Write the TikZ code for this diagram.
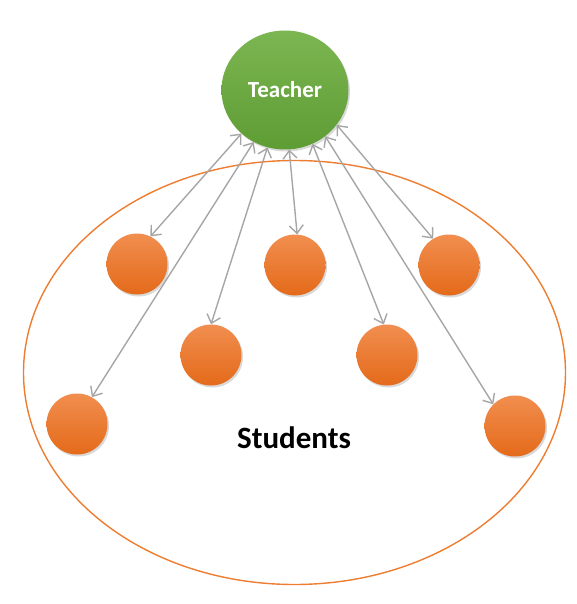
\documentclass[tikz,border=0pt]{standalone}
\usepackage{fontspec}
\setmainfont{Carlito}
\usetikzlibrary{arrows.meta,shapes.geometric,shadows}
\definecolor{ringorange}{RGB}{237,125,49}
\definecolor{studtop}{RGB}{241,142,79}
\definecolor{studbot}{RGB}{228,106,26}
\definecolor{teachtop}{RGB}{124,182,82}
\definecolor{teachbot}{RGB}{94,156,52}
\definecolor{linkgray}{RGB}{166,166,166}

\begin{document}
\begin{tikzpicture}[x=1pt, y=-1pt,
  student/.style={circle, minimum size=61pt, inner sep=0pt,
    top color=studtop, bottom color=studbot,
    drop shadow={shadow xshift=1.5pt, shadow yshift=-2pt, opacity=0.3}},
  teacher/.style={ellipse, minimum width=127pt, minimum height=119pt,
    inner sep=0pt, top color=teachtop, bottom color=teachbot,
    drop shadow={shadow xshift=1.5pt, shadow yshift=-2pt, opacity=0.3},
    text=white, font=\bfseries\fontsize{23}{27}\selectfont},
  link/.style={draw=linkgray, line width=1.4pt,
    {Straight Barb[length=8pt, width=14pt]}-{Straight Barb[length=8pt, width=14pt]}}]
\useasboundingbox (0,0) rectangle (577,604);
% the class
\draw[ringorange, line width=1.4pt] (294.5,372.5) ellipse [x radius=271pt, y radius=212pt];
\node[font=\bfseries\fontsize{31}{36}\selectfont] (label) at (294,438) {Students};
% teacher
\node[teacher] (teacher) at (285,90) {Teacher};
% students
\node[student] (s1) at (137,264) {};
\node[student] (s2) at (295,265) {};
\node[student] (s3) at (449,265) {};
\node[student] (s4) at (211,355) {};
\node[student] (s5) at (387,355) {};
\node[student] (s6) at (77,424) {};
\node[student] (s7) at (515,426) {};
% links
\draw[link] (teacher.-135) -- (s1.64);
\draw[link] (teacher.-121) -- (s6.61);
\draw[link] (teacher.-107) -- (s4.90);
\draw[link] (teacher.-86) -- (s2.86);
\draw[link] (teacher.-63) -- (s5.96);
\draw[link] (teacher.-49) -- (s7.135);
\draw[link] (teacher.-34) -- (s3.121);
\end{tikzpicture}
\end{document}
